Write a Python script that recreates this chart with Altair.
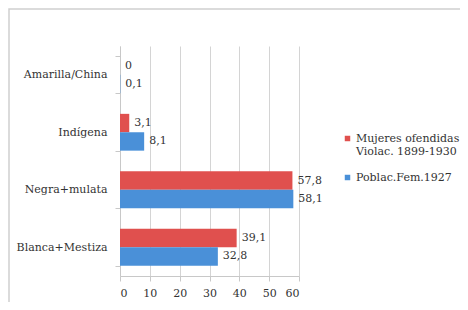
import altair as alt
import pandas as pd

categories = ["Amarilla/China", "Indígena", "Negra+mulata", "Blanca+Mestiza"]
series = ["Mujeres ofendidas|Violac. 1899-1930", "Poblac.Fem.1927"]
mujeres = [0, 3.1, 57.8, 39.1]
poblac = [0.1, 8.1, 58.1, 32.8]
mujeres_lbl = ["0", "3,1", "57,8", "39,1"]
poblac_lbl = ["0,1", "8,1", "58,1", "32,8"]
ticks = [0, 10, 20, 30, 40, 50, 60]
colors = ["#e0504e", "#4a90d8"]

rows = []
for i, c in enumerate(categories):
    rows.append({"cat": c, "serie": series[0], "val": mujeres[i], "lbl": mujeres_lbl[i]})
    rows.append({"cat": c, "serie": series[1], "val": poblac[i], "lbl": poblac_lbl[i]})
df = pd.DataFrame(rows)

FONT = "DejaVu Serif"
FS = 11

yaxis = alt.Axis(title=None, labelFont=FONT, labelFontSize=FS, labelColor="#333333",
                 ticks=True, tickColor="#c8c8c8", tickBand="extent", labelPadding=8,
                 domainColor="#c8c8c8", grid=False)
xaxis = alt.Axis(title=None, values=ticks, labelOverlap=False, labelFont=FONT,
                 labelFontSize=FS, labelColor="#333333", grid=True, gridColor="#d4d4d4",
                 domainColor="#c8c8c8", tickColor="#c8c8c8", labelPadding=6)
yscale = alt.Scale(paddingInner=0.36, paddingOuter=0.18)
xscale = alt.Scale(domain=[0, 60])

ycat = alt.Y("cat:N", sort=categories, scale=yscale, axis=yaxis)
yoff = alt.YOffset("serie:N", sort=series)
xval = alt.X("val:Q", scale=xscale, axis=xaxis)

bars = alt.Chart(df).mark_bar(stroke=None).encode(
    y=ycat, yOffset=yoff, x=xval,
    color=alt.Color("serie:N", sort=series,
                    scale=alt.Scale(domain=series, range=colors),
                    legend=alt.Legend(title=None, orient="none", legendX=222, legendY=87,
                                      symbolType="square", symbolSize=30, labelFont=FONT,
                                      labelFontSize=FS, labelColor="#333333", rowPadding=14,
                                      labelOffset=3,
                                      labelExpr="split(datum.label, '|')", labelLimit=200)),
)

text = alt.Chart(df).mark_text(align="left", baseline="middle", dx=5, font=FONT, fontSize=FS,
                               color="#333333").encode(
    y=ycat, yOffset=yoff, x=xval,
    text="lbl:N",
)

frame = alt.Chart(pd.DataFrame({"a": [0]})).mark_rect(
    fill=None, stroke="#cfcfcf", strokeWidth=1.5).encode(
    x=alt.value(-111), x2=alt.value(400), y=alt.value(-37), y2=alt.value(400)
)

chart = alt.layer(frame, bars, text).properties(
    width=179, height=230,
    autosize=alt.AutoSizeParams(type="none"),
    padding={"left": 112, "top": 38, "right": 161, "bottom": 26},
).configure(background="white").configure_view(stroke=None)

chart.save("out.html", embed_options={"renderer": "svg", "actions": False})
